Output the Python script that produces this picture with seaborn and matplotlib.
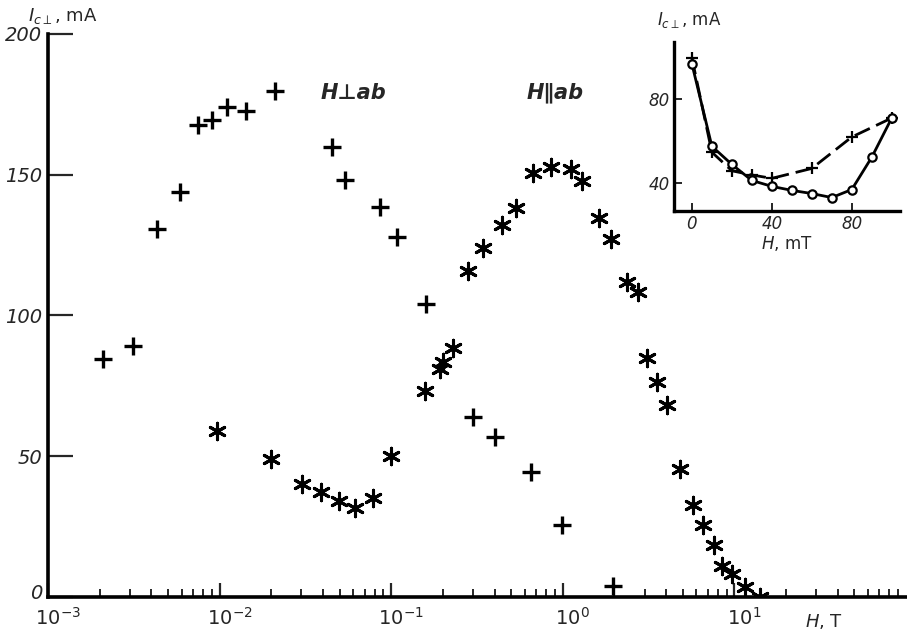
import matplotlib
matplotlib.use("Agg")
import matplotlib.pyplot as plt
import matplotlib.ticker as mticker
import matplotlib.transforms as mtransforms
import seaborn as sns
import pandas as pd

# Main plot: H perpendicular to ab ("+" markers)
perp_H = [0.00209, 0.00313, 0.00432, 0.00588, 0.00748, 0.00903, 0.0110, 0.0143,
          0.0210, 0.0452, 0.0538, 0.0861, 0.108, 0.160, 0.30, 0.40, 0.65, 0.99, 1.96]
perp_I = [84.7, 89.3, 130.6, 144, 167.6, 169.4, 174, 172.6,
          179.7, 160, 148, 138.4, 127.8, 103.9, 64, 57, 44.5, 25.6, 3.9]

# Main plot: H parallel to ab (asterisk markers)
par_H = [0.0097, 0.020, 0.0302, 0.039, 0.0497, 0.0615, 0.0783, 0.100,
         0.157, 0.192, 0.200, 0.229, 0.28, 0.343, 0.443, 0.533, 0.67, 0.853,
         1.12, 1.29, 1.63, 1.91, 2.37, 2.74, 3.1, 3.54, 4.05, 4.82, 5.74,
         6.56, 7.6, 8.47, 9.7, 11.5, 14.1]
par_I = [59, 49, 40.2, 37.4, 34.2, 31.7, 35.2, 50,
         73, 81, 83.3, 88.3, 115.7, 123.8, 132, 138, 150.5, 152.7,
         152, 147.7, 134.5, 127, 112, 108.2, 85, 76.5, 68.3, 45.6, 32.7,
         25.6, 18.5, 11, 8.2, 3.6, 0]

# Inset (low field, mT)
circ_H = [0, 10, 20, 30, 40, 50, 60, 70, 80, 90, 100]
circ_I = [96.7, 57.6, 49, 41.4, 38.6, 36.7, 35.2, 33.3, 37.1, 52.4, 71]
cross_H = [0, 10, 20, 30, 40, 60, 80, 100]
cross_I = [99.5, 54.8, 46, 44, 42.4, 47.1, 62, 71]

x_ticks = [1e-3, 1e-2, 1e-1, 1e0, 1e1]
x_ticklabels = [r"$\mathit{10^{-3}}$", r"$\mathit{10^{-2}}$", r"$\mathit{10^{-1}}$",
                r"$\mathit{10^{0}}$", r"$\mathit{10^{1}}$"]
y_ticks = [0, 50, 100, 150, 200]

sns.set_style("ticks")
plt.rcParams["font.family"] = ["DejaVu Sans"]

fig = plt.figure(figsize=(9.07, 6.37), dpi=100)
ax = fig.add_axes([0.0529, 0.0628, 0.946, 0.884])

perp_df = pd.DataFrame({"H": perp_H, "I": perp_I})
par_df = pd.DataFrame({"H": par_H, "I": par_I})

sns.scatterplot(data=perp_df, x="H", y="I", marker="+", s=160, color="black",
                linewidth=2.4, ax=ax, zorder=3)
sns.scatterplot(data=par_df, x="H", y="I", marker=(6, 2, 0), s=140, color="black",
                linewidth=2.2, ax=ax, zorder=3)

ax.set_xscale("log")
ax.set_xlim(1e-3, 1e2)
ax.set_ylim(0, 200)
ax.set_xlabel("")
ax.set_ylabel("")
sns.despine(ax=ax)
for s in ["left", "bottom"]:
    ax.spines[s].set_linewidth(2.6)
    ax.spines[s].set_color("black")
ax.spines["left"].set_bounds(0, 200)

ax.set_xticks(x_ticks)
ax.set_xticklabels(x_ticklabels, fontsize=14)
ax.xaxis.set_minor_locator(mticker.LogLocator(base=10, subs=range(2, 10), numticks=20))
ax.xaxis.set_minor_formatter(mticker.NullFormatter())
ax.tick_params(axis="x", which="major", direction="in", length=10, width=1.6, pad=7)
ax.tick_params(axis="x", which="minor", direction="in", length=6, width=1.4)
shift = mtransforms.ScaledTranslation(0.1, 0, fig.dpi_scale_trans)
for lab in ax.get_xticklabels():
    lab.set_transform(lab.get_transform() + shift)
ax.set_yticks(y_ticks)
ax.set_yticklabels([str(v) for v in y_ticks], fontsize=14, fontstyle="italic")
ax.tick_params(axis="y", which="major", direction="in", length=18, width=1.6, pad=4)
ax.tick_params(axis="y", which="minor", left=False)
ylabs = ax.get_yticklabels()
ylabs[0].set_transform(ylabs[0].get_transform() +
                       mtransforms.ScaledTranslation(0, 0.05, fig.dpi_scale_trans))

fig.text(0.031, 0.975, r"$I_{c\perp}$, mA", fontsize=13, va="center", ha="left")
fig.text(0.888, 0.024, r"$H$, T", fontsize=13, va="center", ha="left")
ax.text(0.353, 0.854, "H⊥ab", transform=fig.transFigure, fontsize=15,
        fontweight="bold", fontstyle="italic", ha="left", va="center")
ax.text(0.581, 0.854, "H∥ab", transform=fig.transFigure, fontsize=15,
        fontweight="bold", fontstyle="italic", ha="left", va="center")

# Inset
ins = fig.add_axes([0.743, 0.669, 0.249, 0.265])
ins.set_facecolor("white")
sns.lineplot(x=circ_H, y=circ_I, ax=ins, color="black", linewidth=2.0,
             marker="o", markersize=6, markerfacecolor="white",
             markeredgecolor="black", markeredgewidth=1.6, zorder=3)
sns.lineplot(x=cross_H, y=cross_I, ax=ins, color="black", linewidth=2.0,
             marker="+", markersize=8, markeredgewidth=1.6,
             markeredgecolor="black", zorder=2)
ins.lines[-1].set_linestyle((0, (6, 2.5)))
ins.set_xlim(-9, 104)
ins.set_ylim(27, 107)
sns.despine(ax=ins)
for s in ["left", "bottom"]:
    ins.spines[s].set_linewidth(2.4)
    ins.spines[s].set_color("black")
ins.set_xticks([0, 40, 80])
ins.set_xticklabels(["0", "40", "80"], fontsize=12, fontstyle="italic")
ins.set_yticks([40, 80])
ins.set_yticklabels(["40", "80"], fontsize=12, fontstyle="italic")
ins.tick_params(axis="both", direction="in", length=6, width=1.4, pad=3)
ins.set_xlabel(r"$H$, mT", fontsize=12, labelpad=1)
ins.set_ylabel("")
fig.text(0.724, 0.968, r"$I_{c\perp}$, mA", fontsize=12, va="center", ha="left")

fig.savefig("out.png", dpi=100)
